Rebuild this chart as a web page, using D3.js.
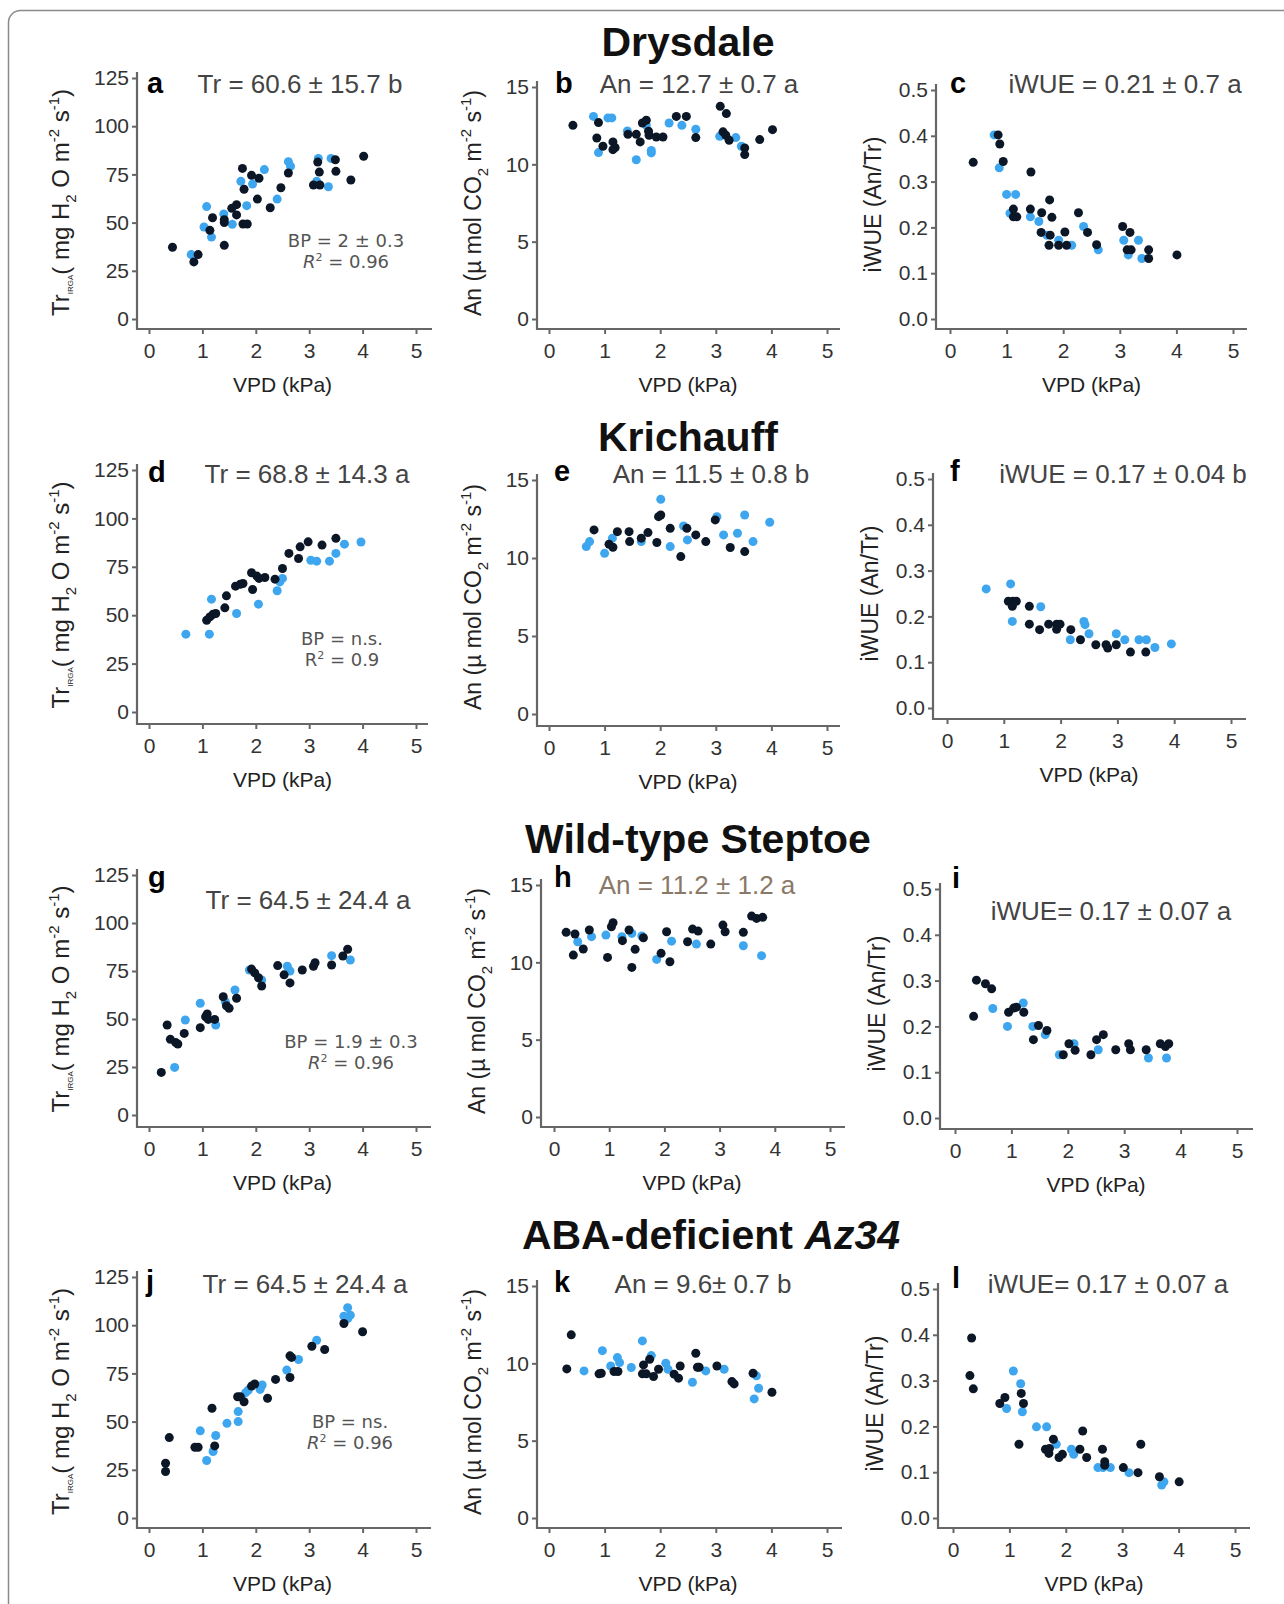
<!DOCTYPE html>
<html>
<head>
<meta charset="utf-8">
<script src="https://cdn.jsdelivr.net/npm/d3@7"></script>
<style>
  body { margin: 0; background: #fff; }
  svg { font-family: Arial, "Liberation Sans", sans-serif; }
</style>
</head>
<body>
<div id="fig"></div>
<script>
// tick values
var vpdTicks = [0, 1, 2, 3, 4, 5]
var trTicks = [0, 25, 50, 75, 100, 125]
var anTicks = [0, 5, 10, 15]
var wueTicks = [0, 0.1, 0.2, 0.3, 0.4, 0.5]

// row titles
var rowTitles = ["Drysdale", "Krichauff", "Wild-type Steptoe", "ABA-deficient "]

// [VPD, value]; dark = black dots, light = blue dots
var aDark = [[0.44,37.2],[0.84,29.6],[0.92,33.4],[1.14,46],[1.19,52.5],[1.41,38.2],[1.41,50],[1.41,51.5],[1.55,57.4],[1.64,59.3],[1.64,54],[1.75,78.1],[1.78,67.3],[1.76,49.3],[1.84,49.3],[1.92,74.5],[2.06,73],[2.03,62.2],[2.27,57.7],[2.47,68.1],[2.61,75.7],[3.08,69.5],[3.16,81.4],[3.19,76.2],[3.2,69.5],[3.49,82.6],[3.5,76.6],[3.78,72.1],[4.02,84.4]]
var aLight = [[0.79,33.4],[1.03,47.7],[1.08,58.3],[1.17,42.5],[1.4,54.5],[1.56,49.1],[1.72,71.4],[1.83,58.8],[1.94,70],[2.16,77.5],[2.4,62.2],[2.61,81.6],[2.65,79.2],[3.14,71.4],[3.17,83.3],[3.36,68.6],[3.41,83.3]]
var bDark = [[0.43,12.52],[0.89,12.7],[0.86,11.7],[0.97,11.17],[1.15,11.45],[1.19,11.08],[1.15,10.95],[1.42,11.94],[1.57,11.94],[1.64,11.45],[1.68,12.67],[1.75,12.85],[1.79,12.14],[1.8,11.88],[1.93,11.77],[2.05,11.77],[2.29,13.1],[2.47,13.1],[2.64,11.73],[3.08,13.75],[3.19,13.28],[3.13,12.1],[3.18,11.88],[3.24,11.56],[3.52,11.06],[3.52,10.63],[3.79,11.6],[4.02,12.24]]
var bLight = [[0.8,13.1],[1.06,13.0],[1.13,13.0],[0.89,10.76],[1.41,12.16],[1.57,10.3],[1.75,12.52],[1.84,10.9],[1.84,10.74],[2.16,12.67],[2.39,12.52],[2.64,12.27],[3.07,11.81],[3.36,11.73],[3.46,11.17]]
var cDark = [[0.41,0.342],[0.85,0.402],[0.88,0.382],[0.94,0.344],[1.43,0.321],[1.12,0.24],[1.12,0.223],[1.18,0.223],[1.42,0.24],[1.62,0.232],[1.76,0.26],[1.8,0.222],[1.61,0.189],[1.77,0.183],[1.75,0.161],[1.92,0.161],[2.06,0.161],[2.03,0.19],[2.27,0.232],[2.43,0.189],[2.59,0.162],[3.05,0.202],[3.18,0.189],[3.13,0.151],[3.2,0.151],[3.51,0.151],[3.51,0.132],[4.01,0.14]]
var cLight = [[0.78,0.402],[0.87,0.33],[1.0,0.272],[1.16,0.272],[1.06,0.231],[1.42,0.223],[1.57,0.213],[1.71,0.183],[1.92,0.172],[2.15,0.161],[2.36,0.202],[2.62,0.151],[3.07,0.172],[3.33,0.172],[3.15,0.14],[3.39,0.132]]
var dDark = [[1.08,47.4],[1.14,49.1],[1.2,50.5],[1.25,50.9],[1.45,60],[1.42,53.8],[1.62,65],[1.71,66],[1.76,66.4],[1.92,71.9],[1.94,63.3],[2.02,70.2],[2.06,69],[2.17,69.5],[2.36,68.6],[2.5,74.1],[2.62,81.9],[2.8,79.3],[2.83,85.3],[2.98,87.9],[3.24,86.2],[3.5,89.7]]
var dLight = [[0.69,40.2],[1.13,40.2],[1.17,58.3],[1.64,50.9],[2.05,55.7],[2.4,62.6],[2.45,67.2],[2.5,69],[3.03,78.4],[3.14,77.9],[3.38,77.9],[3.5,81.9],[3.66,86.7],[3.97,87.8]]
var eDark = [[0.81,11.8],[1.08,10.88],[1.15,10.69],[1.23,11.69],[1.44,11.69],[1.45,11.05],[1.66,11.27],[1.78,11.63],[1.94,10.99],[1.97,12.65],[2.01,12.76],[2.18,11.9],[2.37,10.09],[2.48,11.9],[2.64,11.48],[2.82,11.05],[2.99,12.44],[3.26,10.67],[3.52,10.41]]
var eLight = [[0.67,10.73],[0.73,11.05],[1.0,10.3],[1.14,11.27],[1.66,11.05],[2.01,13.76],[2.18,10.73],[2.42,12.05],[2.49,11.16],[3.02,12.65],[3.14,11.48],[3.39,11.59],[3.52,12.76],[3.67,11.05],[3.97,12.29]]
var fDark = [[1.08,0.233],[1.16,0.233],[1.22,0.233],[1.15,0.222],[1.45,0.222],[1.45,0.183],[1.63,0.171],[1.79,0.183],[1.93,0.183],[1.99,0.183],[1.93,0.172],[2.18,0.171],[2.35,0.149],[2.62,0.138],[2.8,0.138],[2.83,0.131],[2.98,0.138],[3.23,0.122],[3.5,0.122]]
var fLight = [[0.69,0.26],[1.12,0.271],[1.15,0.189],[1.65,0.221],[2.17,0.149],[2.41,0.189],[2.43,0.182],[2.5,0.162],[2.98,0.162],[3.13,0.149],[3.38,0.149],[3.51,0.149],[3.66,0.132],[3.95,0.14]]
var gDark = [[0.23,22.2],[0.34,46.9],[0.4,39.4],[0.5,37.7],[0.54,37],[0.66,42.5],[0.96,45.5],[1.06,51.2],[1.09,52.6],[1.11,49.8],[1.23,49.8],[1.39,61.6],[1.45,56.9],[1.5,55.6],[1.64,60.8],[1.92,76],[1.98,74],[2.05,71.5],[2.11,67.2],[2.41,77.8],[2.53,73],[2.64,68.8],[2.87,75.5],[3.08,77.5],[3.11,79.3],[3.42,78.1],[3.63,82.8],[3.72,86.3]]
var gLight = [[0.48,24.8],[0.68,49.5],[0.96,58.2],[1.25,46.9],[1.43,59],[1.61,65.1],[1.88,75.5],[2.11,70.3],[2.59,77.5],[2.64,75],[3.42,83],[3.77,80.7]]
var hDark = [[0.22,11.94],[0.38,11.83],[0.35,10.47],[0.53,10.86],[0.64,12.09],[0.97,10.32],[1.04,12.3],[1.07,12.56],[1.24,11.4],[1.36,12.09],[1.41,9.67],[1.47,10.84],[1.62,11.59],[1.94,10.58],[2.04,11.98],[2.1,10.04],[2.42,11.33],[2.51,12.15],[2.61,12.02],[2.84,11.18],[3.06,12.41],[3.1,11.98],[3.43,11.94],[3.58,12.99],[3.67,12.84],[3.78,12.91]]
var hLight = [[0.43,11.33],[0.68,11.66],[0.94,11.76],[1.23,11.66],[1.41,11.87],[1.59,11.7],[1.86,10.19],[2.13,11.37],[2.58,11.18],[3.43,11.07],[3.76,10.43]]
var iDark = [[0.33,0.222],[0.38,0.301],[0.54,0.293],[0.65,0.282],[0.95,0.231],[1.04,0.24],[1.09,0.242],[1.22,0.231],[1.39,0.171],[1.48,0.202],[1.63,0.191],[1.92,0.138],[2.02,0.162],[2.13,0.148],[2.41,0.138],[2.51,0.171],[2.63,0.182],[2.85,0.149],[3.08,0.162],[3.11,0.149],[3.39,0.149],[3.64,0.162],[3.73,0.156],[3.79,0.162]]
var iLight = [[0.67,0.239],[0.93,0.2],[1.21,0.251],[1.38,0.2],[1.6,0.182],[1.85,0.138],[2.11,0.162],[2.54,0.149],[3.43,0.131],[3.75,0.131]]
var jDark = [[0.31,28.4],[0.31,24.1],[0.38,41.7],[0.86,36.7],[0.92,36.7],[1.18,56.9],[1.23,37.4],[1.66,62.9],[1.71,62.9],[1.78,60.3],[1.92,68.4],[1.98,69.5],[2.22,62.1],[2.37,71.9],[2.64,84.1],[2.67,83.3],[2.64,72.9],[3.05,89.1],[3.29,87.4],[3.65,100.9],[4.0,96.6]]
var jLight = [[0.96,45.2],[1.08,29.8],[1.2,34.5],[1.25,42.8],[1.46,49.1],[1.67,50],[1.67,55.2],[1.81,65],[1.86,66.4],[2.08,66.7],[2.12,69],[2.58,76.7],[2.8,82.2],[3.14,92.2],[3.65,104.7],[3.72,109.1],[3.77,105.2],[3.72,103.4]]
var kDark = [[0.4,11.84],[0.32,9.64],[0.9,9.32],[0.94,9.36],[1.17,9.47],[1.24,9.47],[1.68,9.32],[1.7,9.9],[1.75,9.32],[1.81,10.26],[1.88,9.15],[1.97,9.62],[2.25,9.3],[2.33,9.04],[2.36,9.83],[2.64,10.65],[2.67,9.75],[2.7,9.75],[3.02,9.83],[3.29,8.82],[3.33,8.67],[3.67,9.36],[4.01,8.13]]
var kLight = [[0.63,9.51],[0.96,10.82],[1.11,9.83],[1.23,10.37],[1.27,10.05],[1.48,9.73],[1.68,11.45],[1.84,10.5],[2.1,10.01],[2.14,9.62],[2.58,8.78],[2.82,9.51],[3.15,9.62],[3.73,9.19],[3.77,8.39],[3.69,7.7]]
var lDark = [[0.33,0.393],[0.3,0.311],[0.36,0.282],[0.83,0.25],[0.92,0.263],[1.17,0.161],[1.21,0.272],[1.25,0.25],[1.64,0.15],[1.7,0.141],[1.71,0.152],[1.78,0.172],[1.88,0.132],[1.94,0.139],[2.25,0.15],[2.3,0.19],[2.37,0.132],[2.65,0.15],[2.69,0.123],[2.69,0.115],[3.02,0.11],[3.28,0.099],[3.33,0.161],[3.66,0.09],[4.01,0.079]]
var lLight = [[0.95,0.239],[1.07,0.321],[1.2,0.293],[1.23,0.232],[1.48,0.199],[1.66,0.199],[1.83,0.161],[2.1,0.15],[2.14,0.139],[2.57,0.11],[2.66,0.11],[2.79,0.11],[3.12,0.099],[3.7,0.072],[3.74,0.079]]

// panel text
var panels = [
  {id:"a", kind:"tr", dark:aDark, light:aLight, stat:"Tr = 60.6 \u00b1 15.7 b", bp:"BP = 2 \u00b1 0.3", r2:"0.96", rItalic:true},
  {id:"b", kind:"an", dark:bDark, light:bLight, stat:"An = 12.7 \u00b1 0.7 a"},
  {id:"c", kind:"wue", dark:cDark, light:cLight, stat:"iWUE = 0.21 \u00b1 0.7 a"},
  {id:"d", kind:"tr", dark:dDark, light:dLight, stat:"Tr = 68.8 \u00b1 14.3 a", bp:"BP = n.s.", r2:"0.9", rItalic:false},
  {id:"e", kind:"an", dark:eDark, light:eLight, stat:"An = 11.5 \u00b1 0.8 b"},
  {id:"f", kind:"wue", dark:fDark, light:fLight, stat:"iWUE = 0.17 \u00b1 0.04 b"},
  {id:"g", kind:"tr", dark:gDark, light:gLight, stat:"Tr = 64.5 \u00b1 24.4 a", bp:"BP = 1.9 \u00b1 0.3", r2:"0.96", rItalic:true},
  {id:"h", kind:"an", dark:hDark, light:hLight, stat:"An = 11.2 \u00b1 1.2 a", statColor:"#8a7868"},
  {id:"i", kind:"wue", dark:iDark, light:iLight, stat:"iWUE= 0.17 \u00b1 0.07 a"},
  {id:"j", kind:"tr", dark:jDark, light:jLight, stat:"Tr = 64.5 \u00b1 24.4 a", bp:"BP = ns.", r2:"0.96", rItalic:true},
  {id:"k", kind:"an", dark:kDark, light:kLight, stat:"An = 9.6\u00b1 0.7 b"},
  {id:"l", kind:"wue", dark:lDark, light:lLight, stat:"iWUE= 0.17 \u00b1 0.07 a"}
]

// pixel layout of each panel: y-axis line x, vpd 0 and 5, axis end, top tick, zero tick, x-axis line y,
// letter position, stat centre/baseline, bp centre/baseline
var layout = {
  a:{ax:137, x0:149, x5:416, xe:432, yt:78,  yb:319,  ay:329,  lx:147, ly:93,   sx:300,  sy:93,   bx:346, by:247},
  b:{ax:537, x0:549, x5:827, xe:840, yt:87,  yb:319,  ay:329,  lx:555, ly:93,   sx:699,  sy:93},
  c:{ax:936, x0:950, x5:1233,xe:1247,yt:90,  yb:319,  ay:329,  lx:950, ly:93,   sx:1125, sy:93},
  d:{ax:137, x0:149, x5:416, xe:428, yt:470, yb:712,  ay:724,  lx:148, ly:482,  sx:307,  sy:483,  bx:342, by:645},
  e:{ax:537, x0:549, x5:827, xe:840, yt:480, yb:714,  ay:726,  lx:554, ly:481,  sx:711,  sy:483},
  f:{ax:933, x0:947, x5:1231,xe:1246,yt:479, yb:708,  ay:719,  lx:950, ly:481,  sx:1123, sy:483},
  g:{ax:137, x0:149, x5:416, xe:431, yt:875, yb:1115, ay:1127, lx:148, ly:887,  sx:308,  sy:909,  bx:351, by:1048},
  h:{ax:541, x0:554, x5:830, xe:845, yt:885, yb:1117, ay:1127, lx:554, ly:887,  sx:697,  sy:894},
  i:{ax:940, x0:955, x5:1237,xe:1253,yt:889, yb:1118, ay:1129, lx:952, ly:888,  sx:1111, sy:920},
  j:{ax:137, x0:149, x5:416, xe:431, yt:1277,yb:1518, ay:1528, lx:146, ly:1291, sx:305,  sy:1293, bx:350, by:1428},
  k:{ax:537, x0:549, x5:827, xe:842, yt:1286,yb:1518, ay:1528, lx:554, ly:1292, sx:703,  sy:1293},
  l:{ax:938, x0:953, x5:1235,xe:1250,yt:1289,yb:1518, ay:1528, lx:952, ly:1288, sx:1108, sy:1293}
}
var titlePos = [[688, 56], [688, 451], [698, 853], [711, 1249]]

var width = 1284, height = 1604
var darkColor = "#0b1626", lightColor = "#3ea6ee", axisColor = "#666"

var svg = d3.select("#fig").append("svg")
    .attr("width", width)
    .attr("height", height)

svg.append("rect")
    .attr("x", 8.5).attr("y", 10.5)
    .attr("width", 1320).attr("height", 1640)
    .attr("rx", 12)
    .attr("fill", "none")
    .attr("stroke", "#8a8a8a")
    .attr("stroke-width", 1.5)

// row titles
rowTitles.forEach(function(t, i){
  var txt = svg.append("text")
      .attr("x", titlePos[i][0]).attr("y", titlePos[i][1])
      .attr("text-anchor", "middle")
      .attr("font-size", 41).attr("font-weight", "bold")
      .attr("fill", "#111")
      .text(t)
  if (i == 3) txt.append("tspan").attr("font-style", "italic").text("Az34")
})

function yLabel(g, kind, cx, cy){
  var t = g.append("text")
      .attr("transform", "translate(" + cx + "," + cy + ") rotate(-90)")
      .attr("text-anchor", "middle")
      .attr("fill", "#222")
  var parts
  if (kind == "tr") {
    t.attr("font-size", 24)
    parts = [["Tr",0,null],["IRGA",4,8],["( mg H",-4,null],["2",7,15],[" O m",-7,null],["-2",-10,15],[" s",10,null],["-1",-10,15],[")",10,null]]
  } else if (kind == "an") {
    t.attr("font-size", 23)
    parts = [["An (\u00b5 mol CO",0,null],["2",7,15],[" m",-7,null],["-2",-10,15],[" s",10,null],["-1",-10,15],[")",10,null]]
  } else {
    t.attr("font-size", 23)
    parts = [["iWUE (An/Tr)",0,null]]
  }
  parts.forEach(function(p){
    var s = t.append("tspan").attr("dy", p[1]).text(p[0])
    if (p[2]) s.attr("font-size", p[2])
  })
}

panels.forEach(function(p){
  var L = layout[p.id]
  var g = svg.append("g")
  var ymax = p.kind == "tr" ? 125 : (p.kind == "an" ? 15 : 0.5)
  var yTicks = p.kind == "tr" ? trTicks : (p.kind == "an" ? anTicks : wueTicks)

  var x = d3.scaleLinear().domain([0, 5]).range([L.x0, L.x5])
  var y = d3.scaleLinear().domain([0, ymax]).range([L.yb, L.yt])

  // axes (ticks/labels from d3, lines drawn separately)
  var xa = g.append("g").attr("transform", "translate(0," + L.ay + ")")
      .call(d3.axisBottom(x).tickValues(vpdTicks).tickSize(5).tickPadding(9).tickFormat(d3.format("d")))
  var ya = g.append("g").attr("transform", "translate(" + L.ax + ",0)")
      .call(d3.axisLeft(y).tickValues(yTicks).tickSize(5).tickPadding(3)
        .tickFormat(p.kind == "wue" ? d3.format(".1f") : d3.format("d")))
  ;[xa, ya].forEach(function(a){
    a.select(".domain").remove()
    a.selectAll("line").attr("stroke", axisColor).attr("stroke-width", 2)
    a.selectAll("text").attr("font-size", 21).attr("fill", "#333")
      .attr("font-family", "Arial, 'Liberation Sans', sans-serif")
  })
  g.append("line").attr("x1", L.ax).attr("x2", L.ax).attr("y1", L.yt - 6).attr("y2", L.ay + 1)
      .attr("stroke", axisColor).attr("stroke-width", 2.2)
  g.append("line").attr("x1", L.ax - 1).attr("x2", L.xe).attr("y1", L.ay).attr("y2", L.ay)
      .attr("stroke", axisColor).attr("stroke-width", 2.2)

  g.append("text")
      .attr("x", (L.x0 + L.x5) / 2).attr("y", L.ay + 63)
      .attr("text-anchor", "middle").attr("font-size", 21).attr("fill", "#222")
      .text("VPD (kPa)")

  var mid = (L.yt + L.yb) / 2
  if (p.kind == "tr") yLabel(g, "tr", L.ax - 68, mid + 4)
  else if (p.kind == "an") yLabel(g, "an", L.ax - 56, mid)
  else yLabel(g, "wue", L.ax - 55, mid)

  // dots
  g.selectAll(".lt").data(p.light).enter().append("circle")
      .attr("cx", function(d){ return x(d[0]) })
      .attr("cy", function(d){ return y(d[1]) })
      .attr("r", 4.5)
      .attr("fill", lightColor)
  g.selectAll(".dk").data(p.dark).enter().append("circle")
      .attr("cx", function(d){ return x(d[0]) })
      .attr("cy", function(d){ return y(d[1]) })
      .attr("r", 4.5)
      .attr("fill", darkColor)

  // panel letter and stat text
  g.append("text").attr("x", L.lx).attr("y", L.ly)
      .attr("font-size", 29).attr("font-weight", "bold").attr("fill", "#000")
      .text(p.id)
  g.append("text").attr("x", L.sx).attr("y", L.sy)
      .attr("text-anchor", "middle").attr("font-size", 26)
      .attr("fill", p.statColor || "#444")
      .text(p.stat)

  if (p.bp) {
    g.append("text").attr("x", L.bx).attr("y", L.by)
        .attr("text-anchor", "middle").attr("font-size", 18).attr("fill", "#555")
        .attr("font-family", "'DejaVu Sans', sans-serif")
        .text(p.bp)
    var r = g.append("text").attr("x", L.bx).attr("y", L.by + 21)
        .attr("text-anchor", "middle").attr("font-size", 18).attr("fill", "#555")
        .attr("font-family", "'DejaVu Sans', sans-serif")
    r.append("tspan").attr("font-style", p.rItalic ? "italic" : "normal").text("R")
    r.append("tspan").attr("font-size", 11).attr("dy", -7).text("2")
    r.append("tspan").attr("dy", 7).text(" = " + p.r2)
  }
})
</script>
</body>
</html>
